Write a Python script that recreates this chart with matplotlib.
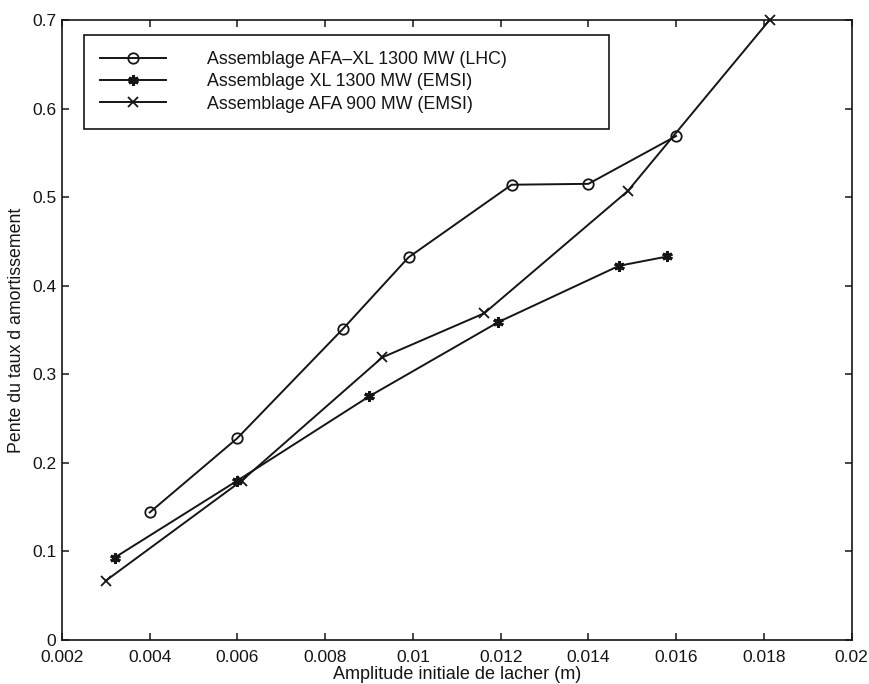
import matplotlib
matplotlib.use("Agg")
import matplotlib.pyplot as plt
from matplotlib.ticker import FormatStrFormatter

plt.rcParams['font.family'] = ['Liberation Sans', 'DejaVu Sans']

# Data
afa_xl_lhc_x = [0.0040, 0.0060, 0.0084, 0.0099, 0.01225, 0.0140, 0.0160]
afa_xl_lhc_y = [0.144, 0.228, 0.351, 0.432, 0.514, 0.515, 0.569]
xl_emsi_x = [0.0032, 0.0060, 0.0090, 0.01195, 0.0147, 0.0158]
xl_emsi_y = [0.093, 0.180, 0.275, 0.359, 0.4225, 0.433]
afa_emsi_x = [0.0030, 0.0061, 0.0093, 0.01163, 0.0149, 0.01813]
afa_emsi_y = [0.067, 0.180, 0.319, 0.369, 0.507, 0.700]

labels = ["Assemblage AFA\u2013XL 1300 MW (LHC)",
          "Assemblage XL 1300 MW (EMSI)",
          "Assemblage AFA 900 MW (EMSI)"]
xticks = [0.002, 0.004, 0.006, 0.008, 0.01, 0.012, 0.014, 0.016, 0.018, 0.02]
yticks = [0, 0.1, 0.2, 0.3, 0.4, 0.5, 0.6, 0.7]

col = '#151515'
fig = plt.figure(figsize=(8.69, 6.84), dpi=100)
ax = fig.add_axes([0.0713, 0.0643, 0.9087, 0.9065])

ax.plot(afa_xl_lhc_x, afa_xl_lhc_y, color=col, lw=1.4, marker='o', ms=7.5,
        mfc='none', mec=col, mew=1.3, label=labels[0], clip_on=False)
ax.plot(xl_emsi_x, xl_emsi_y, color=col, lw=1.4, marker=(6, 2, 0), ms=7.5,
        mec=col, mew=2.2, label=labels[1], clip_on=False)
ax.plot(afa_emsi_x, afa_emsi_y, color=col, lw=1.4, marker='x', ms=6.5,
        mec=col, mew=1.3, label=labels[2], clip_on=False)

ax.set_xlim(0.002, 0.02)
ax.set_ylim(0, 0.7)
ax.set_xticks(xticks)
ax.set_yticks(yticks)
ax.xaxis.set_major_formatter(FormatStrFormatter('%g'))
ax.yaxis.set_major_formatter(FormatStrFormatter('%g'))
ax.tick_params(direction='in', length=5, width=1.1, top=True, right=True,
               labelsize=12.5, colors=col)
ax.tick_params(axis='x', pad=7)
ax.tick_params(axis='y', pad=4)
for s in ax.spines.values():
    s.set_linewidth(1.2)
    s.set_color(col)

ax.set_xlabel("Amplitude initiale de lacher (m)", fontsize=13, color=col, labelpad=1)
ax.set_ylabel("Pente du taux d amortissement", fontsize=12.8, color=col, labelpad=5)

leg = ax.legend(loc='upper left', bbox_to_anchor=(0.0275, 0.8253, 0.6655, 0.1505),
                mode='expand', fontsize=12.8, handlelength=3.75, handletextpad=2.3,
                labelspacing=0.3, borderpad=0.9, borderaxespad=0,
                fancybox=False, framealpha=1, edgecolor=col)
leg.get_frame().set_linewidth(1.2)
for t in leg.get_texts():
    t.set_color(col)

fig.savefig("out.png", dpi=100)
